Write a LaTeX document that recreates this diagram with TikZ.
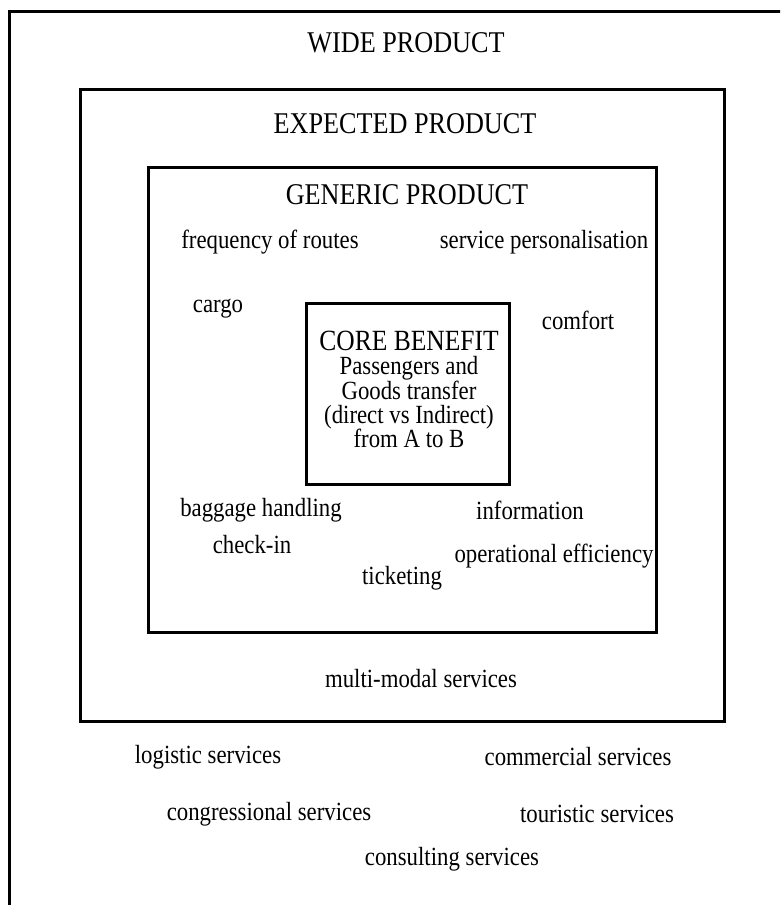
\documentclass[tikz,border=0pt]{standalone}
\usepackage{fontspec}
\setmainfont{Liberation Serif}
\usepackage{graphicx}
\newcommand{\tx}[1]{\scalebox{1}[1.15]{#1}}
\begin{document}
\begin{tikzpicture}[x=1pt,y=-1pt,
  box/.style={draw=black,line width=3pt,inner sep=0pt,outer sep=0pt},
  lbl/.style={inner sep=0pt,font=\fontsize{22.8}{24.3}\selectfont},
  big/.style={inner sep=0pt,font=\fontsize{26.2}{28}\selectfont}]
\useasboundingbox (0,0) rectangle (780,905);
\fill[white] (0,0) rectangle (780,905);
\begin{scope}
\clip (0,0) rectangle (780,905);
\coordinate (o1) at (9,930);
\coordinate (o2) at (9,11);
\coordinate (o3) at (800,11);
\draw[box,line cap=rect] (o1) -- (o2) -- (o3);
\end{scope}
\node[box,minimum width=644pt,minimum height=632pt] (exp) at (402,405) {};
\node[box,minimum width=508pt,minimum height=465pt] (gen) at (402,399.5) {};
\node[box,minimum width=203pt,minimum height=181pt] (core) at (407.5,393.5) {};

\node[big] (wide) at (406,43) {\tx{WIDE PRODUCT}};
\node[big] (expt) at (405,124) {\tx{EXPECTED PRODUCT}};
\node[big] (gent) at (407,195) {\tx{GENERIC PRODUCT}};

\node[lbl,align=center,anchor=north] (coret) at (409,331)
  {{\fontsize{25.5}{24.3}\selectfont\tx{CORE BENEFIT}}\\
   \tx{Passengers and}\\
   \tx{Goods transfer}\\
   \tx{(direct vs Indirect)}\\
   \tx{from A to B}};

\node[lbl] (freq) at (270,242) {\tx{frequency of routes}};
\node[lbl] (pers) at (544,242) {\tx{service personalisation}};
\node[lbl] (cargo) at (218,309) {\tx{cargo}};
\node[lbl] (comf) at (578,320) {\tx{comfort}};
\node[lbl] (bagg) at (261,510) {\tx{baggage handling}};
\node[lbl] (info) at (530,510) {\tx{information}};
\node[lbl] (chk) at (252,545) {\tx{check-in}};
\node[lbl] (oper) at (554,556) {\tx{operational efficiency}};
\node[lbl] (tick) at (402,578) {\tx{ticketing}};

\node[lbl] (mm) at (421,679) {\tx{multi-modal services}};
\node[lbl] (logi) at (208,757) {\tx{logistic services}};
\node[lbl] (comm) at (578,757) {\tx{commercial services}};
\node[lbl] (cong) at (269,814) {\tx{congressional services}};
\node[lbl] (tour) at (597,814) {\tx{touristic services}};
\node[lbl] (cons) at (452,859) {\tx{consulting services}};
\end{tikzpicture}
\end{document}
